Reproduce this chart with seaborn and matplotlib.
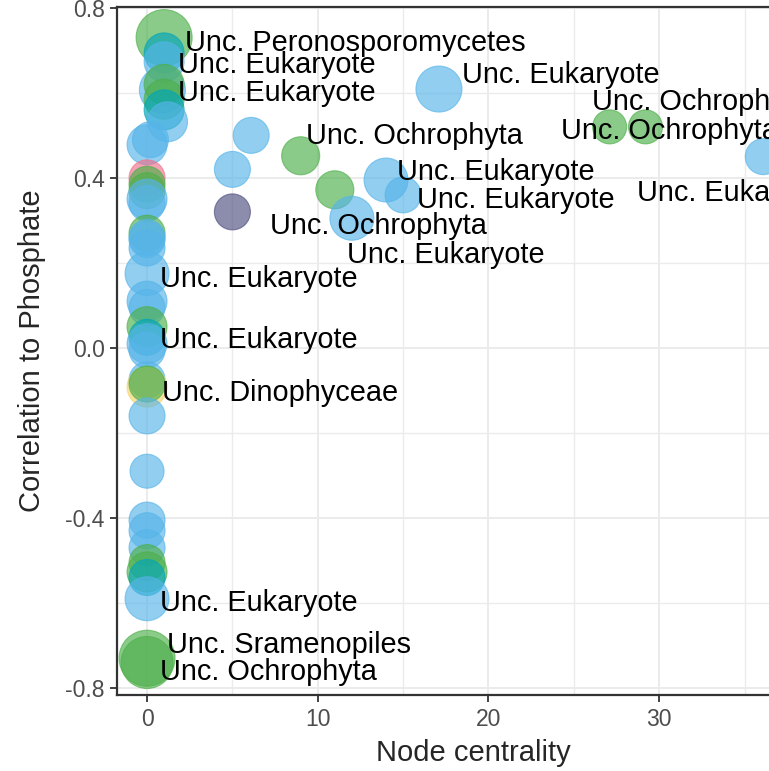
import pandas as pd
import seaborn as sns
import matplotlib.pyplot as plt

# node centrality (x), correlation to phosphate (y), abundance (bubble size), group (colour)
centrality = [1, 1, 1, 0.9, 1, 1, 1, 1.2, 0, 0.2,
              0, 0, 0, 0, 0, 0, 0, 0, 0, 0,
              0, 0, 0, 0, 0, 0, 0, 0, 0, 0,
              0, 0, 0, 0, 0, 0, 0, 0, 0, 0,
              6.1, 5, 5, 9, 11, 12, 14, 15, 17.1, 27.1,
              29.2, 36.1]
correlation = [0.73, 0.694, 0.673, 0.607, 0.62, 0.585, 0.56, 0.532, 0.478, 0.49,
               0.40, 0.385, 0.37, 0.35, 0.34, 0.27, 0.26, 0.255, 0.235, 0.175,
               0.11, 0.095, 0.05, 0.025, 0.01, -0.005, -0.075, -0.092, -0.085, -0.16,
               -0.29, -0.405, -0.43, -0.47, -0.505, -0.527, -0.54, -0.59, -0.73, -0.74,
               0.50, 0.42, 0.32, 0.452, 0.372, 0.305, 0.395, 0.36, 0.609, 0.52,
               0.52, 0.45]
abundance = [2.71, 1.38, 1.38, 1.83, 1.38, 1.38, 1.38, 1.38, 1.38, 1.12,
             1.12, 1.12, 1.12, 1.38, 1.12, 1.12, 1.12, 1.12, 1.12, 1.67,
             1.38, 1.12, 1.38, 1.12, 1.38, 1.12, 1.12, 1.38, 1.12, 1.12,
             1.0, 1.12, 1.12, 1.12, 1.12, 1.38, 1.12, 1.67, 2.71, 2.34,
             1.12, 1.12, 1.12, 1.25, 1.25, 1.67, 1.67, 1.12, 1.83, 1.0,
             1.0, 1.12]
group = ['Stramenopiles', 'Rhizaria', 'Eukaryota', 'Eukaryota', 'Stramenopiles',
         'Stramenopiles', 'Rhizaria', 'Eukaryota', 'Eukaryota', 'Eukaryota',
         'Chlorophyta', 'Stramenopiles', 'Stramenopiles', 'Eukaryota', 'Eukaryota',
         'Stramenopiles', 'Eukaryota', 'Eukaryota', 'Eukaryota', 'Eukaryota',
         'Eukaryota', 'Eukaryota', 'Stramenopiles', 'Rhizaria', 'Eukaryota',
         'Eukaryota', 'Eukaryota', 'Alveolata', 'Stramenopiles', 'Eukaryota',
         'Eukaryota', 'Eukaryota', 'Eukaryota', 'Eukaryota', 'Stramenopiles',
         'Stramenopiles', 'Rhizaria', 'Eukaryota', 'Stramenopiles', 'Stramenopiles',
         'Eukaryota', 'Eukaryota', 'Cryptophyta', 'Stramenopiles', 'Stramenopiles',
         'Eukaryota', 'Eukaryota', 'Eukaryota', 'Eukaryota', 'Stramenopiles',
         'Stramenopiles', 'Eukaryota']

# repelled labels (left edge x, centre y)
label_text = ['Unc. Peronosporomycetes', 'Unc. Eukaryote', 'Unc. Eukaryote', 'Unc. Eukaryote',
              'Unc. Ochrophyta', 'Unc. Ochrophyta', 'Unc. Ochrophyta', 'Unc. Eukaryote',
              'Unc. Eukaryote', 'Unc. Eukaryote', 'Unc. Ochrophyta', 'Unc. Eukaryote',
              'Unc. Eukaryote', 'Unc. Eukaryote', 'Unc. Dinophyceae', 'Unc. Eukaryote',
              'Unc. Sramenopiles', 'Unc. Ochrophyta']
label_x = [2.23, 1.82, 1.82, 18.45, 26.07, 24.25, 9.31, 14.65, 15.82, 28.7,
           7.21, 11.72, 0.76, 0.76, 0.88, 0.76, 1.17, 0.76]
label_y = [0.725, 0.673, 0.607, 0.649, 0.584, 0.518, 0.506, 0.421, 0.355, 0.372,
           0.294, 0.226, 0.169, 0.026, -0.099, -0.593, -0.692, -0.755]

palette = {'Eukaryota': '#56B4E9', 'Stramenopiles': '#4DAF4A', 'Rhizaria': '#00A6BC',
           'Alveolata': '#F5D46A', 'Cryptophyta': '#4E4E80', 'Chlorophyta': '#F0708C'}

df = pd.DataFrame({'centrality': centrality, 'correlation': correlation,
                   'abundance': abundance, 'group': group})

sns.set_style('white')
plt.rcParams['font.family'] = ['Liberation Sans', 'DejaVu Sans']

fig = plt.figure(figsize=(7.69, 7.71), dpi=100)
ax = fig.add_axes([117 / 769, 76 / 771, 712 / 769, 688 / 771])

sns.scatterplot(data=df, x='centrality', y='correlation', hue='group', size='abundance',
                palette=palette, sizes=(600, 1626), size_norm=(1.0, 2.71),
                alpha=0.65, edgecolor='face', linewidth=0.8, legend=False, ax=ax, zorder=3)

# labels sit a couple of points lower than the bbox centre, like ggrepel text
for t, lx, ly in zip(label_text, label_x, label_y):
    ax.annotate(t, (lx, ly), xytext=(0, -2), textcoords='offset points',
                fontsize=20.8, color='black', ha='left', va='center', zorder=4,
                annotation_clip=False)

ax.set_xlim(-1.76, 39.95)
ax.set_ylim(-0.8165, 0.802)
ax.set_xticks([0, 10, 20, 30])
ax.set_xticks([5, 15, 25, 35], minor=True)
ax.set_yticks([-0.8, -0.4, 0.0, 0.4, 0.8])
ax.set_yticklabels(['-0.8', '-0.4', '0.0', '0.4', '0.8'])
ax.set_yticks([-0.6, -0.2, 0.2, 0.6], minor=True)
ax.grid(which='major', color='#EBEBEB', linewidth=1.4, zorder=0)
ax.grid(which='minor', color='#EBEBEB', linewidth=1.0, zorder=0)
ax.set_axisbelow(True)

ax.tick_params(which='major', length=5, width=1.3, color='#333333', labelcolor='#4D4D4D',
               labelsize=16.5, pad=4, left=True, bottom=True)
ax.tick_params(which='minor', length=0)
for side in ['left', 'bottom', 'top']:
    ax.spines[side].set_color('#333333')
    ax.spines[side].set_linewidth(1.6)
ax.spines['right'].set_visible(False)

ax.set_xlabel('Node centrality', fontsize=21, labelpad=6)
ax.set_ylabel('Correlation to Phosphate', fontsize=21, labelpad=14)

fig.savefig('out.png', dpi=100)
